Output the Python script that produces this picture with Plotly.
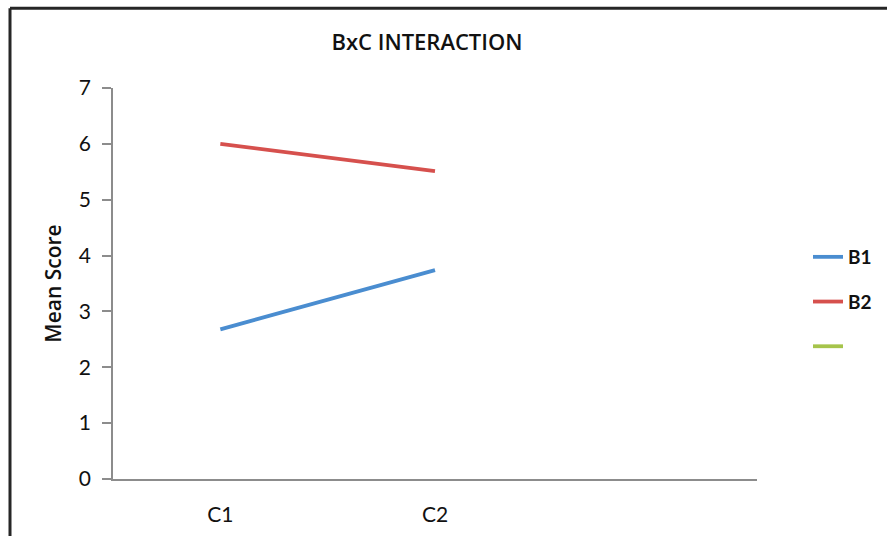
import plotly.graph_objects as go

# Cell means for the B x C interaction
categories = ["C1", "C2"]
b1_means = [2.68, 3.74]
b2_means = [6.00, 5.51]
b3_means = [None, None]  # third series has no values

series_names = ["B1", "B2", ""]
series_values = [b1_means, b2_means, b3_means]
series_colors = ["#4a8dd0", "#d6504d", "#a6c44b"]

W, H = 887, 538
ML, MR, MT, MB = 113, 130, 88, 53
PW, PH = W - ML - MR, H - MT - MB


def px_x(x):
    return (x - ML) / PW


def px_y(y):
    return (H - MB - y) / PH


fig = go.Figure()
for i, (name, vals, col) in enumerate(zip(series_names, series_values, series_colors)):
    fig.add_trace(go.Scatter(
        x=categories, y=vals, name=name, mode="lines",
        line=dict(color=col, width=3.8),
        legendgroup=f"g{i}",
    ))

axis_gray = "#8c8c8c"

fig.update_layout(
    width=W, height=H,
    margin=dict(l=ML, r=MR, t=MT, b=MB),
    paper_bgcolor="white", plot_bgcolor="white",
    title=dict(
        text="BxC INTERACTION",
        x=427 / W, xref="container", xanchor="center",
        y=1 - 42 / H, yref="container", yanchor="middle",
        font=dict(family="Open Sans", size=22, color="#111", weight=600),
    ),
    showlegend=True,
    legend=dict(
        xref="container", yref="container",
        x=808 / W, xanchor="left",
        y=1 - 302 / H, yanchor="middle",
        font=dict(family="Lato", size=19, color="#111", weight="bold"),
        tracegroupgap=17,
        bgcolor="rgba(0,0,0,0)",
    ),
    xaxis=dict(
        type="category", categoryorder="array", categoryarray=categories,
        range=[-0.5, 2.5],
        showgrid=False, zeroline=False,
        showline=True, linecolor=axis_gray, linewidth=1.5,
        ticks="", ticklabelstandoff=16,
        tickfont=dict(family="Lato", size=21, color="#111"),
        fixedrange=True,
    ),
    yaxis=dict(
        range=[0, 7], dtick=1, tick0=0,
        showgrid=False, zeroline=False,
        showline=True, linecolor=axis_gray, linewidth=1.5,
        ticks="outside", ticklen=9, tickcolor=axis_gray, tickwidth=1.5,
        ticklabelstandoff=7,
        tickfont=dict(family="Lato", size=21, color="#111"),
        title=dict(text="Mean Score", standoff=12,
                   font=dict(family="Open Sans", size=21, color="#111", weight=600)),
        fixedrange=True,
    ),
)

# Frame around the chart area (left and top edges)
border = dict(color="#262626", width=3)
fig.add_shape(type="line", xref="paper", yref="paper",
              x0=px_x(10), x1=px_x(10), y0=px_y(7), y1=px_y(H + 5), line=border)
fig.add_shape(type="line", xref="paper", yref="paper",
              x0=px_x(10), x1=px_x(W + 5), y0=px_y(7), y1=px_y(7), line=border)

fig.write_html("out.html")
